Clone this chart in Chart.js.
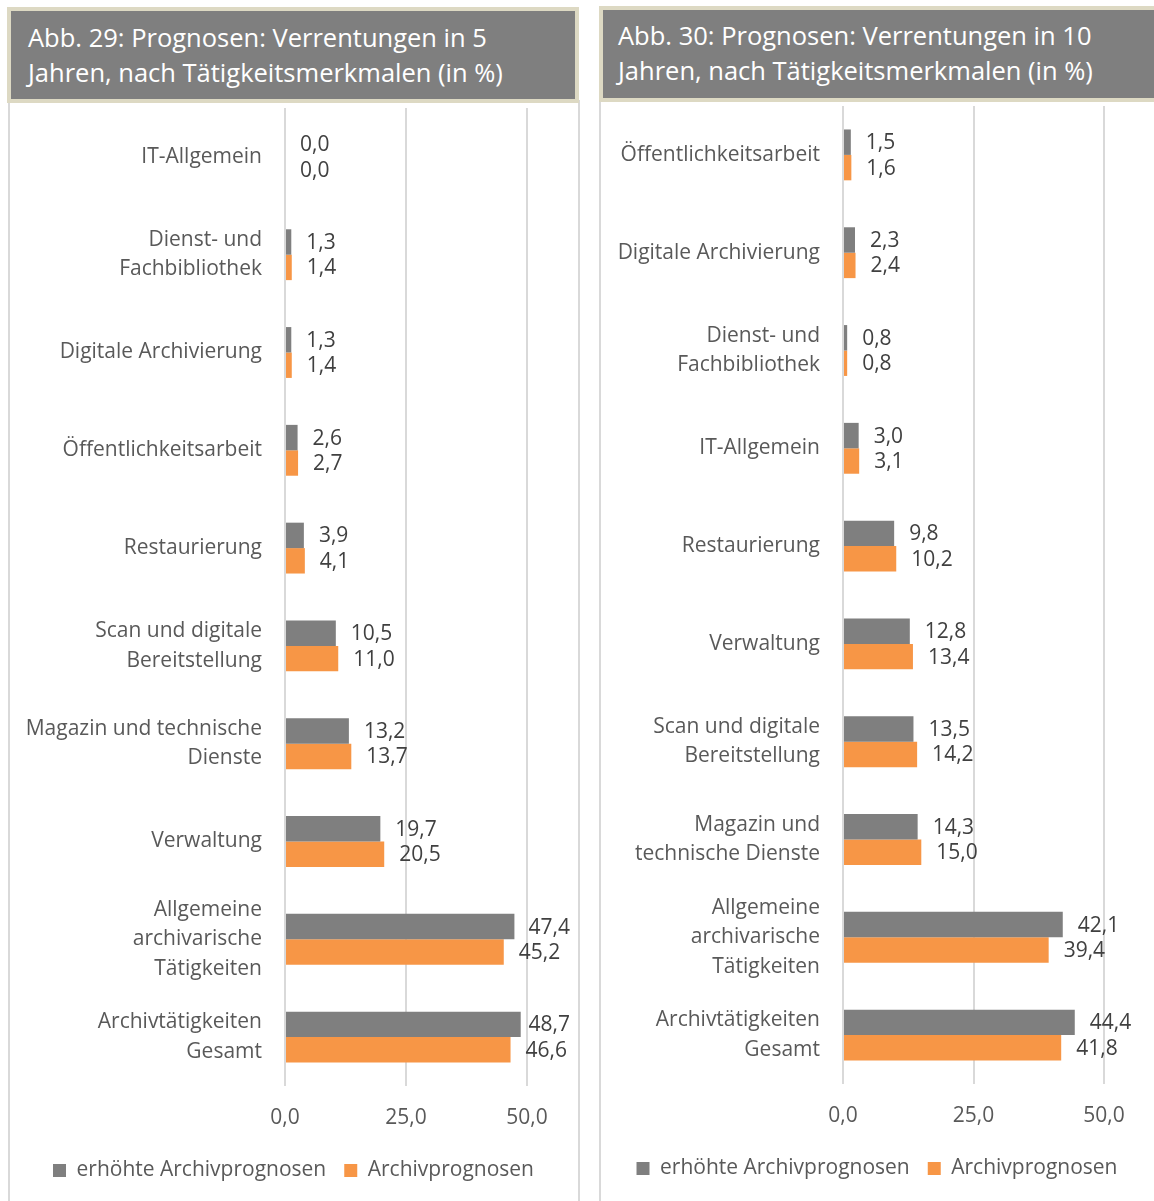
<!DOCTYPE html>
<html>
<head>
<meta charset="utf-8">
<script src="https://cdn.jsdelivr.net/npm/chart.js@4"></script>
<style>
  html, body { margin:0; padding:0; background:#ffffff; }
  body { width:1154px; height:1201px; position:relative; overflow:hidden; font-family:"Open Sans", sans-serif; }
  .hdr { position:absolute; box-sizing:border-box; background:#7f7f7f; border:4px solid #ddd9c3; color:#ffffff; font-size:25.5px; line-height:35px; font-family:"Open Sans", sans-serif; white-space:nowrap; }
  .frame { position:absolute; box-sizing:border-box; border-left:2px solid #d9d9d9; border-right:2px solid #d9d9d9; }
  canvas { position:absolute; }
</style>
</head>
<body>
<div class="frame" style="left:8px; top:100px; width:572px; height:1110px;"></div>
<div class="frame" style="left:599px; top:98px; width:600px; height:1110px;"></div>
<div class="hdr" style="left:7px; top:7px; width:572px; height:96px; padding:9px 0 0 17px;">Abb. 29: Prognosen: Verrentungen in 5<br>Jahren, nach Tätigkeitsmerkmalen (in %)</div>
<div class="hdr" style="left:599px; top:6px; width:570px; height:96px; padding:8px 0 0 15px;">Abb. 30: Prognosen: Verrentungen in 10<br>Jahren, nach Tätigkeitsmerkmalen (in %)</div>
<canvas id="c1" width="569" height="1098" style="left:9px; top:103px; width:569px; height:1098px;"></canvas>
<canvas id="c2" width="554" height="1100" style="left:600px; top:101px; width:554px; height:1100px;"></canvas>
<script>
// ---- Data ----
const seriesNames = ["erhöhte Archivprognosen", "Archivprognosen"];

const categories5 = [
  "IT-Allgemein",
  ["Dienst- und", "Fachbibliothek"],
  "Digitale Archivierung",
  "Öffentlichkeitsarbeit",
  "Restaurierung",
  ["Scan und digitale", "Bereitstellung"],
  ["Magazin und technische", "Dienste"],
  "Verwaltung",
  ["Allgemeine", "archivarische", "Tätigkeiten"],
  ["Archivtätigkeiten", "Gesamt"]
];
const erhoeht5 = [0.0, 1.3, 1.3, 2.6, 3.9, 10.5, 13.2, 19.7, 47.4, 48.7];
const archiv5  = [0.0, 1.4, 1.4, 2.7, 4.1, 11.0, 13.7, 20.5, 45.2, 46.6];

const categories10 = [
  "Öffentlichkeitsarbeit",
  "Digitale Archivierung",
  ["Dienst- und", "Fachbibliothek"],
  "IT-Allgemein",
  "Restaurierung",
  "Verwaltung",
  ["Scan und digitale", "Bereitstellung"],
  ["Magazin und", "technische Dienste"],
  ["Allgemeine", "archivarische", "Tätigkeiten"],
  ["Archivtätigkeiten", "Gesamt"]
];
const erhoeht10 = [1.5, 2.3, 0.8, 3.0, 9.8, 12.8, 13.5, 14.3, 42.1, 44.4];
const archiv10  = [1.6, 2.4, 0.8, 3.1, 10.2, 13.4, 14.2, 15.0, 39.4, 41.8];

const xTicks = [0, 25, 50];

// ---- Styling ----
const GRAY = "#7f7f7f";
const ORANGE = "#f79646";
const TEXT = "#595959";
const VALTEXT = "#404040";
const FONT = "'Open Sans', sans-serif";
const FS = 21;

const fmt = v => v.toFixed(1).replace(".", ",");

const valueLabels = {
  id: "valueLabels",
  afterDatasetsDraw(chart) {
    const ctx = chart.ctx;
    ctx.save();
    ctx.font = FS + "px " + FONT;
    ctx.fillStyle = VALTEXT;
    ctx.textAlign = "left";
    ctx.textBaseline = "middle";
    const limit = chart.width - 8;
    chart.data.datasets.forEach((ds, di) => {
      const meta = chart.getDatasetMeta(di);
      meta.data.forEach((el, i) => {
        const t = fmt(ds.data[i]);
        const w = ctx.measureText(t).width;
        const x = Math.min(el.x + 15, limit - w);
        ctx.fillText(t, x, el.y + 1);
      });
    });
    ctx.restore();
  }
};

function noPad(s) { s.paddingTop = 0; s.paddingBottom = 0; }

function makeChart(id, cats, a, b, yWidth, rightWidth, padBottom) {
  return new Chart(document.getElementById(id), {
    type: "bar",
    data: {
      labels: cats,
      datasets: [
        { label: seriesNames[0], data: a, backgroundColor: GRAY, barPercentage: 1, categoryPercentage: 0.52 },
        { label: seriesNames[1], data: b, backgroundColor: ORANGE, barPercentage: 1, categoryPercentage: 0.52 }
      ]
    },
    options: {
      indexAxis: "y",
      responsive: false,
      animation: false,
      layout: { padding: { top: 5, bottom: padBottom, left: 0, right: 0 } },
      plugins: {
        legend: {
          position: "bottom",
          labels: { font: { size: FS, family: FONT }, color: TEXT, boxWidth: 13, boxHeight: 13, padding: 18 }
        },
        tooltip: { enabled: false }
      },
      scales: {
        x: {
          min: 0, max: 50,
          afterBuildTicks: s => { s.ticks = xTicks.map(v => ({ value: v })); },
          ticks: { callback: v => fmt(v), font: { size: FS, family: FONT }, color: TEXT, padding: 19 },
          grid: { color: "#d9d9d9", lineWidth: 2, drawTicks: false },
          border: { display: false },
          afterFit: s => { s.height = 56; s.paddingLeft = 0; s.paddingRight = 0; }
        },
        y: {
          grid: { display: false, drawTicks: false },
          border: { display: false },
          ticks: { font: { size: FS, family: FONT, lineHeight: 1.4 }, color: TEXT, padding: 23, autoSkip: false },
          afterFit: s => { s.width = yWidth; noPad(s); }
        },
        yR: {
          axis: "y", type: "category", position: "right",
          grid: { display: false, drawTicks: false },
          border: { display: false },
          ticks: { display: false },
          afterFit: s => { s.width = rightWidth; noPad(s); }
        }
      }
    },
    plugins: [valueLabels]
  });
}

makeChart("c1", categories5, erhoeht5, archiv5, 276, 51, 10);
makeChart("c2", categories10, erhoeht10, archiv10, 243, 50, 12);
</script>
</body>
</html>
